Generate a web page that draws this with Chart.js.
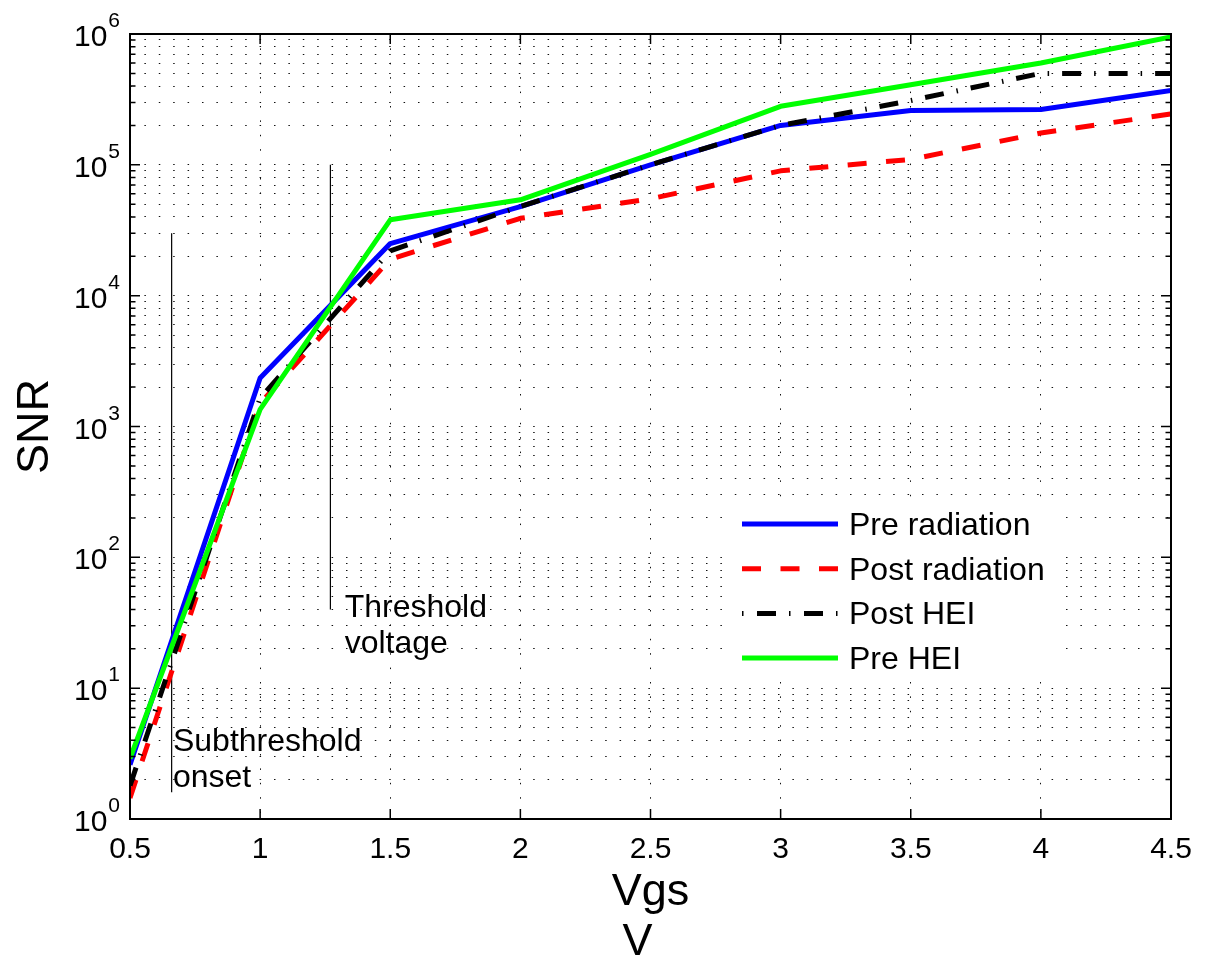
<!DOCTYPE html>
<html>
<head>
<meta charset="utf-8">
<script src="https://cdn.jsdelivr.net/npm/chart.js@4"></script>
<style>
  html, body { margin: 0; padding: 0; background: #fff; }
  #wrap { width: 1212px; height: 959px; }
</style>
</head>
<body>
<div id="wrap"><canvas id="grafico" width="1212" height="959"></canvas></div>
<script>
// Vgs (V)
const vgs = [0.5, 1, 1.5, 2, 2.5, 3, 3.5, 4, 4.5];
const preRadiation  = [2.6, 2350, 25000, 48000, 100000, 200000, 260000, 265000, 370000];
const postRadiation = [1.45, 1500, 19000, 39000, 55000, 90000, 110000, 175000, 245000];
const postHEI       = [1.8, 1650, 22000, 48000, 100000, 200000, 310000, 500000, 500000];
const preHEI        = [2.9, 1350, 38000, 54000, 120000, 280000, 410000, 600000, 950000];

const seriesNames = ["Pre radiation", "Post radiation", "Post HEI", "Pre HEI"];
const xTicks = [0.5, 1, 1.5, 2, 2.5, 3, 3.5, 4, 4.5];
const yExponents = [0, 1, 2, 3, 4, 5, 6];

// vertical marker lines: x position, low / high SNR
const markX = [0.66, 1.27];
const markLow = [1.6, 40];
const markHigh = [30000, 100000];
const markText = [["Subthreshold", "onset"], ["Threshold", "voltage"]];
const markTextX = [0.665, 1.325];
const markTextY = [3.3, 35];

const FONT = "'Liberation Sans', Arial, Helvetica, sans-serif";
const DASH_RED = [19, 19.5];
const DASH_BLACK = [19, 13, 1.5, 13];

function puntos(ys){
    return vgs.map((x, i) => ({x: x, y: ys[i]}));
}

// minor grid of the log axis: 1..9 for every decade
const yGridValues = [];
for (const e of yExponents) {
    if (e === yExponents[yExponents.length - 1]) { yGridValues.push(Math.pow(10, e)); break; }
    for (let m = 1; m <= 9; m++) yGridValues.push(m * Math.pow(10, e));
}

const series = [
    {label: seriesNames[0], data: puntos(preRadiation),  borderColor: "#0000ff", borderDash: [],          order: 4},
    {label: seriesNames[1], data: puntos(postRadiation), borderColor: "#ff0000", borderDash: DASH_RED,   order: 3},
    {label: seriesNames[2], data: puntos(postHEI),       borderColor: "#000000", borderDash: DASH_BLACK, order: 2},
    {label: seriesNames[3], data: puntos(preHEI),        borderColor: "#00ff00", borderDash: [],          order: 1}
];

const datasets = series.map(s => Object.assign({
    borderWidth: 5,
    pointRadius: 0,
    fill: false,
    tension: 0,
    borderJoinStyle: "round",
    borderCapStyle: "butt"
}, s));

markX.forEach((x, i) => {
    datasets.push({
        label: "mark" + i,
        data: [{x: x, y: markLow[i]}, {x: x, y: markHigh[i]}],
        borderColor: "#000",
        borderWidth: 1.2,
        pointRadius: 0,
        order: 5
    });
});

const matlabEjes = {
    id: "matlabEjes",
    afterDraw(chart){
        const ctx = chart.ctx;
        const a = chart.chartArea;
        const sx = chart.scales.x, sy = chart.scales.y;
        ctx.save();

        // annotation texts
        ctx.fillStyle = "#000";
        ctx.font = "32px " + FONT;
        ctx.textAlign = "left";
        ctx.textBaseline = "alphabetic";
        markText.forEach((lines, i) => {
            const px = sx.getPixelForValue(markTextX[i]);
            const py = sy.getPixelForValue(markTextY[i]);
            lines.forEach((t, k) => ctx.fillText(t, px, py + k * 36));
        });

        // legend (white, no border)
        ctx.fillStyle = "#fff";
        ctx.fillRect(727, 497, 336, 183);
        series.forEach((s, i) => {
            const yy = 524 + i * 44.7;
            ctx.strokeStyle = s.borderColor;
            ctx.lineWidth = 5;
            ctx.lineCap = "butt";
            ctx.setLineDash(i === 2 ? [1.5, 13.5, 19, 13] : s.borderDash);
            ctx.beginPath();
            ctx.moveTo(742, yy);
            ctx.lineTo(838, yy);
            ctx.stroke();
            ctx.setLineDash([]);
            ctx.fillStyle = "#000";
            ctx.font = "32px " + FONT;
            ctx.fillText(s.label, 849, yy + 11);
        });

        // box
        ctx.strokeStyle = "#000";
        ctx.lineWidth = 2;
        ctx.strokeRect(a.left, a.top, a.right - a.left, a.bottom - a.top);

        // inward tick marks
        ctx.lineWidth = 1.5;
        ctx.beginPath();
        xTicks.forEach(v => {
            const px = sx.getPixelForValue(v);
            ctx.moveTo(px, a.bottom); ctx.lineTo(px, a.bottom - 10);
            ctx.moveTo(px, a.top); ctx.lineTo(px, a.top + 10);
        });
        yGridValues.forEach(v => {
            const py = sy.getPixelForValue(v);
            const major = Math.abs(Math.log10(v) - Math.round(Math.log10(v))) < 1e-9;
            const len = major ? 10 : 5.5;
            ctx.moveTo(a.left, py); ctx.lineTo(a.left + len, py);
            ctx.moveTo(a.right, py); ctx.lineTo(a.right - len, py);
        });
        ctx.stroke();

        // x tick labels
        ctx.fillStyle = "#000";
        ctx.font = "30px " + FONT;
        ctx.textAlign = "center";
        xTicks.forEach(v => {
            ctx.fillText(String(v), sx.getPixelForValue(v), a.bottom + 39);
        });

        // y tick labels 10^n
        yExponents.forEach(e => {
            const py = sy.getPixelForValue(Math.pow(10, e));
            const right = a.left - 10;
            ctx.font = "21px " + FONT;
            const ew = ctx.measureText(String(e)).width;
            ctx.textAlign = "left";
            ctx.fillText(String(e), right - ew, py - 7);
            ctx.font = "30px " + FONT;
            ctx.textAlign = "right";
            ctx.fillText("10", right - ew - 1, py + 12);
        });

        // axis titles
        ctx.font = "45px " + FONT;
        ctx.textAlign = "center";
        ctx.fillText("Vgs", (a.left + a.right) / 2, 905);
        ctx.fillText("V", (a.left + a.right) / 2 - 13, 955);

        ctx.translate(48, (a.top + a.bottom) / 2);
        ctx.rotate(-Math.PI / 2);
        ctx.fillText("SNR", 0, 0);

        ctx.restore();
    }
};

function main(){
    const ctx = document.getElementById("grafico").getContext("2d");
    new Chart(ctx, {
        type: "line",
        data: {datasets: datasets},
        options: {
            responsive: false,
            animation: false,
            devicePixelRatio: 1,
            layout: {padding: {left: 130, top: 34, right: 41, bottom: 140}},
            plugins: {legend: {display: false}, tooltip: {enabled: false}, title: {display: false}},
            scales: {
                x: {
                    type: "linear",
                    min: 0.5, max: 4.5,
                    ticks: {display: false, stepSize: 0.5},
                    grid: {color: "#111", lineWidth: 1, drawTicks: false},
                    border: {display: false, dash: [1.5, 12.9]}
                },
                y: {
                    type: "logarithmic",
                    min: 1, max: 1e6,
                    ticks: {display: false, autoSkip: false},
                    afterBuildTicks: (scale) => { scale.ticks = yGridValues.map(v => ({value: v})); },
                    grid: {color: "#111", lineWidth: 1, drawTicks: false},
                    border: {display: false, dash: [1.5, 12.9]}
                }
            }
        },
        plugins: [matlabEjes]
    });
}

window.addEventListener("DOMContentLoaded", main);
</script>
</body>
</html>
